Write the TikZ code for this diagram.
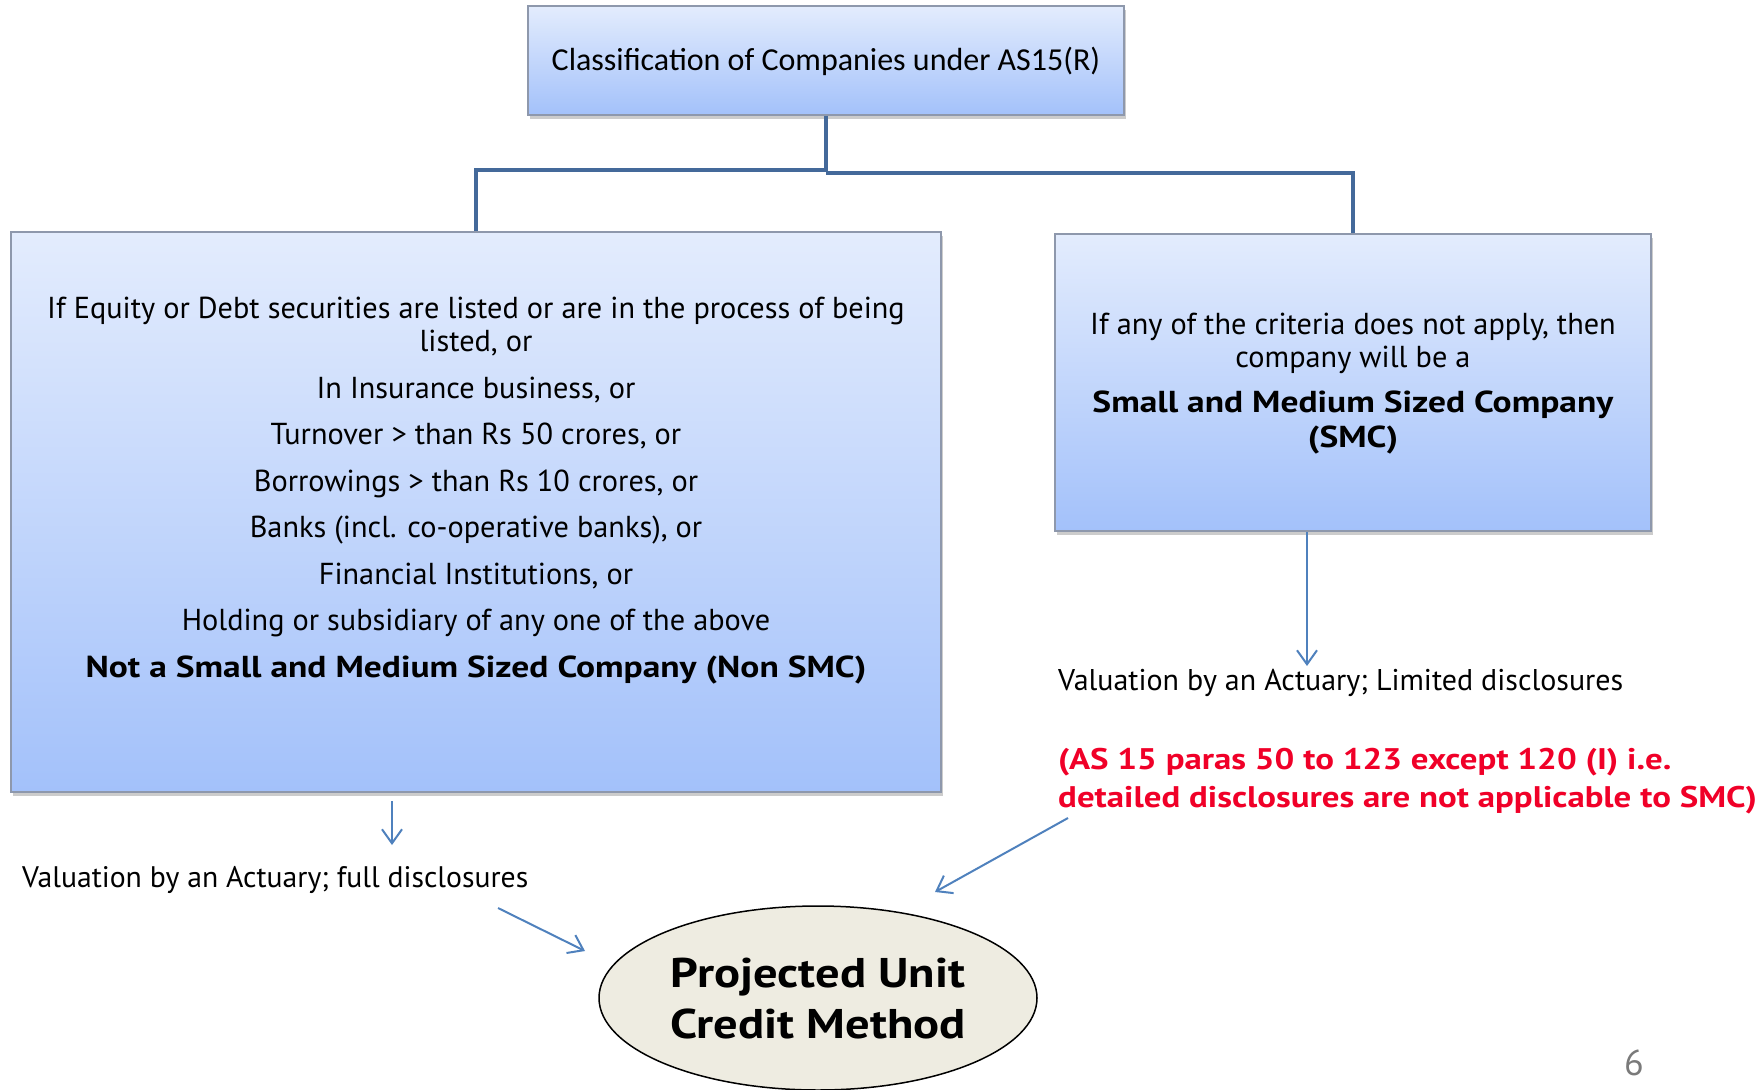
\documentclass[tikz,border=0pt]{standalone}
\usepackage{fontspec}
\setmainfont{PT Sans}[BoldFeatures={FakeStretch=1.17}]
\newfontfamily\calib{Carlito}
\usetikzlibrary{arrows.meta,shadows,calc}
\definecolor{conn}{HTML}{44699A}
\definecolor{arr}{HTML}{4F81BD}
\definecolor{boxtop}{HTML}{E3ECFD}
\definecolor{boxbot}{HTML}{A3C1FA}
\definecolor{boxline}{HTML}{8E98AC}
\definecolor{ellfill}{HTML}{EEECE1}
\definecolor{redtxt}{HTML}{F00028}
\definecolor{pggray}{HTML}{7A7A7A}
\tikzset{
  bluebox/.style={draw=boxline, line width=1.2pt, top color=boxtop, bottom color=boxbot,
    drop shadow={opacity=0.4, shadow xshift=2pt, shadow yshift=-4pt}, inner sep=0pt},
  tree/.style={draw=conn, line width=4.5pt},
  thinarrow/.style={draw=arr, line width=2pt, -{Straight Barb[length=14pt,width=20pt,line width=2pt]}},
  bodytext/.style={align=center, inner sep=0pt, font=\fontsize{30.3}{33}\selectfont},
}
\begin{document}
\begin{tikzpicture}[x=1pt,y=-1pt]
\useasboundingbox (0,0) rectangle (1755,1089);
% boxes
\node[bluebox, minimum width=596pt, minimum height=109pt] (top) at (826,60.5) {};
\node[font=\calib\fontsize{32}{36}\selectfont] (toptext) at (826,61) {Classification of Companies under AS15(R)};
\node[bluebox, minimum width=930pt, minimum height=560pt] (lbox) at (476,512) {};
\node[bluebox, minimum width=596pt, minimum height=297pt] (rbox) at (1353,382.5) {};
% tree connectors
\coordinate (jl) at (826,170);
\coordinate (jr) at (826,173);
\draw[tree] (top.south) -- (jl) -| (lbox.north);
\draw[tree] (jr) -| (rbox.north);
% left text
\node[bodytext] (ltext) at (476,490.5) {If Equity or Debt securities are listed or are in the process of being\\
listed, or\\[13.5pt]
In Insurance business, or\\[13.5pt]
Turnover > than Rs 50 crores, or\\[13.5pt]
Borrowings > than Rs 10 crores, or\\[13.5pt]
Banks (incl. co-operative banks), or\\[13.5pt]
Financial Institutions, or\\[13.5pt]
Holding or subsidiary of any one of the above\\[13.5pt]
\textbf{Not a Small and Medium Sized Company (Non SMC)}};
% right text
\node[bodytext] (rtext) at (1353,384) {If any of the criteria does not apply, then\\
company will be a\\[12pt]
\textbf{Small and Medium Sized Company}\\[2pt]
\textbf{(SMC)}};
% lower texts
\node[anchor=west, inner sep=0pt, font=\fontsize{30}{33}\selectfont] (rval) at (1058,683) {Valuation by an Actuary; Limited disclosures};
\node[anchor=west, inner sep=0pt, align=left, text=redtxt, font=\bfseries\fontsize{29.8}{38}\selectfont] (red) at (1058,781) {(AS 15 paras 50 to 123 except 120 (I) i.e.\\detailed disclosures are not applicable to SMC)};
\node[anchor=west, inner sep=0pt, font=\fontsize{29.7}{33}\selectfont] (lval) at (22,880) {Valuation by an Actuary; full disclosures};
% ellipse
\draw[black, line width=1.5pt, fill=ellfill] (818,998) ellipse [x radius=219, y radius=92];
\node[align=center, inner sep=0pt, font=\bfseries\fontsize{41.5}{51}\selectfont] (puc) at (818,999) {Projected Unit\\Credit Method};
% arrows
\coordinate (ra1) at (1307,532);
\coordinate (ra2) at (1307,666);
\draw[thinarrow] (ra1) -- (ra2);
\coordinate (la1) at (392,801);
\coordinate (la2) at (392,845);
\draw[thinarrow] (la1) -- (la2);
\coordinate (d1a) at (498,908);
\coordinate (d1b) at (585,951);
\draw[thinarrow] (d1a) -- (d1b);
\coordinate (d2a) at (1068,818);
\coordinate (d2b) at (935,892);
\draw[thinarrow] (d2a) -- (d2b);
% page number
\node[text=pggray, font=\fontsize{36}{40}\selectfont] (pg) at (1634,1063) {6};
\end{tikzpicture}
\end{document}
